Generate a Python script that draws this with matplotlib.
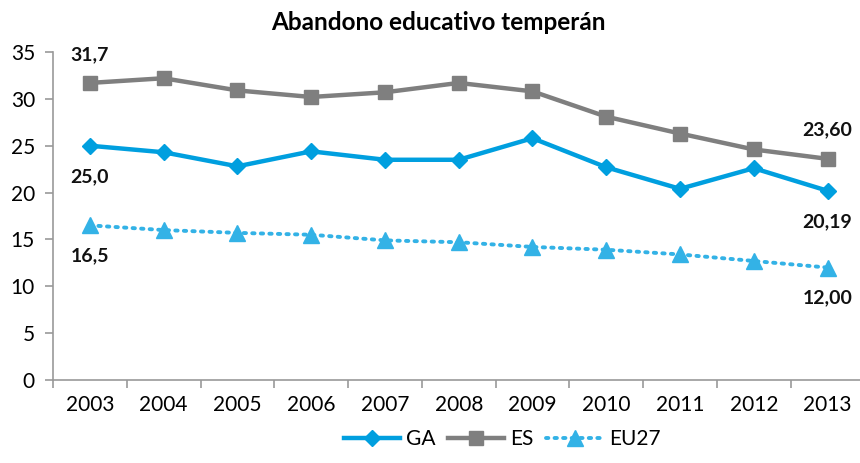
import matplotlib
matplotlib.use("Agg")
import matplotlib.pyplot as plt
from matplotlib.ticker import FixedLocator

plt.rcParams['font.family'] = ['Lato', 'DejaVu Sans']

years = ["2003", "2004", "2005", "2006", "2007", "2008", "2009", "2010", "2011", "2012", "2013"]
ga = [25.0, 24.3, 22.8, 24.4, 23.5, 23.5, 25.8, 22.7, 20.4, 22.6, 20.19]
es = [31.7, 32.2, 30.9, 30.2, 30.7, 31.7, 30.8, 28.1, 26.3, 24.6, 23.6]
eu27 = [16.5, 16.0, 15.7, 15.5, 14.9, 14.7, 14.2, 13.9, 13.4, 12.7, 12.0]

c_ga = "#009FDF"
c_es = "#7F7F7F"
c_eu = "#33B2E6"

fig = plt.figure(figsize=(8.6, 4.63), dpi=100)
ax = fig.add_axes([53/860, 83/463, 1 - 53/860, (380-52)/463])

x = list(range(len(years)))
ax.plot(x, ga, color=c_ga, lw=3.2, marker="D", ms=8, label="GA", zorder=3)
ax.plot(x, es, color=c_es, lw=3.2, marker="s", ms=10, label="ES", zorder=2)
ax.plot(x, eu27, color=c_eu, lw=2.8, ls=(0, (0.6, 1.6)), dash_capstyle="round",
        marker="^", ms=11, label="EU27", zorder=2)

ax.set_ylim(0, 35)
ax.set_xlim(-0.5, 10.44)
ax.set_yticks(range(0, 36, 5))
ax.set_xticks(x)
ax.set_xticklabels(years)
ax.xaxis.set_minor_locator(FixedLocator([i - 0.5 for i in range(11)]))
ax.tick_params(axis="x", which="major", length=0, pad=11, labelsize=15)
ax.tick_params(axis="x", which="minor", length=6, width=1.2, color="#999999")
ax.tick_params(axis="y", length=6, width=1.2, color="#999999", labelsize=15, pad=7)
for s in ["top", "right"]:
    ax.spines[s].set_visible(False)
for s in ["left", "bottom"]:
    ax.spines[s].set_color("#999999")
    ax.spines[s].set_linewidth(1.2)

def lab(i, vals, txt, dy):
    ax.annotate(txt, (i, vals[i]), xytext=(0, dy), textcoords="offset points",
                ha="center", va="center", fontsize=14, fontweight="bold", color="#111111")

lab(0, es, "31,7", 20)
lab(0, ga, "25,0", -22)
lab(0, eu27, "16,5", -22)
lab(10, es, "23,60", 21)
lab(10, ga, "20,19", -22)
lab(10, eu27, "12,00", -22)

fig.text(0.51, 0.952, "Abandono educativo temperán", ha="center", va="center",
         fontsize=17.5, fontweight="bold")

ax.legend(loc="center", bbox_to_anchor=(502/860, 24/463), bbox_transform=fig.transFigure,
          ncol=3, frameon=False, fontsize=15, handlelength=2.7, columnspacing=0.6,
          handletextpad=0.3, borderaxespad=0)

fig.savefig("out.png", dpi=100)
